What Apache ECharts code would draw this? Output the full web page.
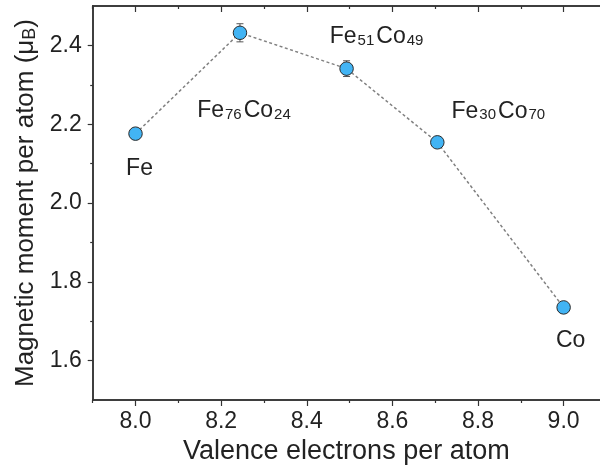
<!DOCTYPE html>
<html>
<head>
<meta charset="utf-8">
<script src="https://cdn.jsdelivr.net/npm/echarts@6/dist/echarts.min.js"></script>
<style>html,body{margin:0;padding:0;background:#fff;}#c{width:600px;height:470px;}</style>
</head>
<body>
<div id="c"></div>
<script>
const electrons = [8.0, 8.244, 8.493, 8.705, 9.0];
const moments = [2.176, 2.432, 2.341, 2.154, 1.735];
const errors = [0.008, 0.023, 0.02, 0.008, 0.005];
const names = ['Fe', 'Fe{s|76}Co{s|24}', 'Fe{s|51}Co{s|49}', 'Fe{s|30}Co{s|70}', 'Co'];
const xMajor = [8.0, 8.2, 8.4, 8.6, 8.8, 9.0];
const xMinor = [7.9, 8.1, 8.3, 8.5, 8.7, 8.9];
const yMajor = [1.6, 1.8, 2.0, 2.2, 2.4];
const yMinor = [1.7, 1.9, 2.1, 2.3];
const labelOffsets = [[4, 35], [5, 78], [31, -32], [62, -31], [7, 33]];

const font = 'Liberation Sans, Arial, sans-serif';
const axisColor = '#333';
const X_MIN = 7.9, X_MAX = 9.085, Y_MIN = 1.5, Y_MAX = 2.5;
const chart = echarts.init(document.getElementById('c'));

function xAx(pos, ticks, len, inside, withLabels, withName) {
  const a = {
    type: 'value', position: pos, min: X_MIN, max: X_MAX,
    axisLine: { show: true, onZero: false, lineStyle: { color: axisColor, width: 1.5 } },
    axisTick: { show: true, inside: inside, length: len, customValues: ticks, lineStyle: { color: axisColor, width: 1.2 } },
    axisLabel: withLabels
      ? { show: true, customValues: ticks, formatter: v => v.toFixed(1), fontFamily: font, fontSize: 23, color: '#222', margin: 10 }
      : { show: false },
    splitLine: { show: false }
  };
  if (withName) {
    a.name = 'Valence electrons per atom';
    a.nameLocation = 'middle';
    a.nameGap = 38;
    a.nameTextStyle = { fontFamily: font, fontSize: 27, color: '#222' };
  }
  return a;
}
function yAx(ticks, len, withLabels, withName) {
  const a = {
    type: 'value', position: 'left', min: Y_MIN, max: Y_MAX,
    axisLine: { show: true, onZero: false, lineStyle: { color: axisColor, width: 1.5 } },
    axisTick: { show: true, inside: false, length: len, customValues: ticks, lineStyle: { color: axisColor, width: 1.2 } },
    axisLabel: withLabels
      ? { show: true, customValues: ticks, formatter: v => v.toFixed(1), fontFamily: font, fontSize: 23, color: '#222', margin: 11 }
      : { show: false },
    splitLine: { show: false }
  };
  if (withName) {
    a.name = 'Magnetic moment per atom (μ{sub|B})';
    a.nameLocation = 'middle';
    a.nameGap = 52;
    a.nameTextStyle = { fontFamily: font, fontSize: 26, color: '#222',
      rich: { sub: { fontFamily: font, fontSize: 18, color: '#222', verticalAlign: 'bottom' } } };
  }
  return a;
}

chart.setOption({
  animation: false,
  grid: { left: 92.7, top: 6, bottom: 69, right: 0, containLabel: false },
  xAxis: [
    xAx('bottom', xMajor, 6, false, true, true),
    xAx('bottom', xMinor, 3, false, false, false),
    xAx('top', xMajor, 6, true, false, false),
    xAx('top', xMinor, 3, true, false, false)
  ],
  yAxis: [
    yAx(yMajor, 5, true, true),
    yAx(yMinor, 2.5, false, false)
  ],
  series: [{
    type: 'line',
    xAxisIndex: 0, yAxisIndex: 0,
    data: electrons.map((x, i) => ({
      value: [x, moments[i]],
      label: { offset: labelOffsets[i] }
    })),
    lineStyle: { color: '#808080', width: 1.5, type: [3, 2.5] },
    symbol: 'circle', symbolSize: 13.5,
    itemStyle: { color: '#42b4f4', borderColor: '#2a2a2a', borderWidth: 1 },
    label: {
      show: true, position: 'inside', align: 'center', verticalAlign: 'middle',
      formatter: p => names[p.dataIndex],
      fontFamily: font, fontSize: 23, color: '#222',
      rich: { s: { fontFamily: font, fontSize: 15, color: '#222', verticalAlign: 'bottom', padding: [0, 2, 0, 1] } }
    },
    z: 3
  }, {
    type: 'custom',
    xAxisIndex: 0, yAxisIndex: 0,
    data: electrons.map((x, i) => [x, moments[i] - errors[i], moments[i] + errors[i]]),
    renderItem: (params, api) => {
      const lo = api.coord([api.value(0), api.value(1)]);
      const hi = api.coord([api.value(0), api.value(2)]);
      const w = 3.5;
      const st = { stroke: '#555', lineWidth: 1 };
      return { type: 'group', children: [
        { type: 'line', shape: { x1: lo[0], y1: lo[1], x2: hi[0], y2: hi[1] }, style: st },
        { type: 'line', shape: { x1: lo[0] - w, y1: lo[1], x2: lo[0] + w, y2: lo[1] }, style: st },
        { type: 'line', shape: { x1: hi[0] - w, y1: hi[1], x2: hi[0] + w, y2: hi[1] }, style: st }
      ]};
    },
    z: 2
  }]
});
</script>
</body>
</html>
